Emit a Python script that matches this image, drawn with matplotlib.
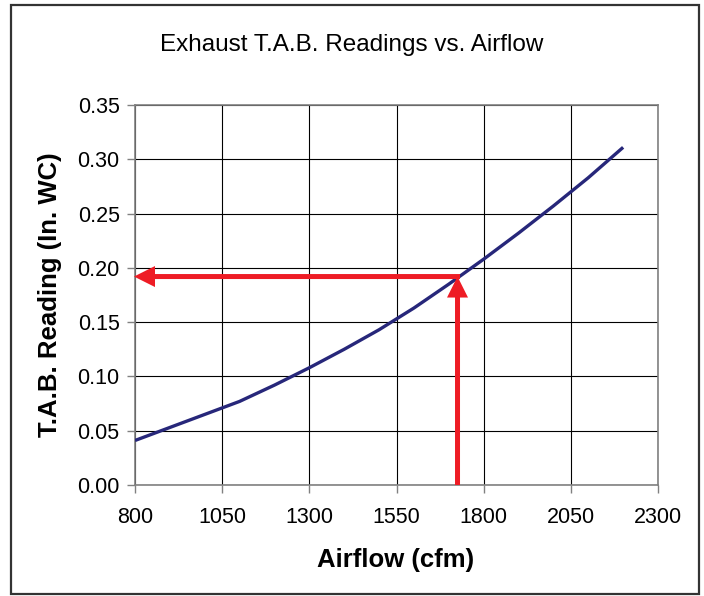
import matplotlib
matplotlib.use('Agg')
import matplotlib.pyplot as plt
import matplotlib.patches as mpatches

# curve
airflow = [800, 900, 1000, 1100, 1200, 1300, 1400, 1500, 1600, 1700, 1800, 1900, 2000, 2100, 2200]
reading = [0.041, 0.053, 0.065, 0.077, 0.092, 0.108, 0.125, 0.143, 0.163, 0.185, 0.208, 0.232, 0.257, 0.283, 0.311]

# lookup arrows
lookup_airflow = 1725
lookup_reading = 0.192

x_ticks = [800, 1050, 1300, 1550, 1800, 2050, 2300]
y_ticks = [0.00, 0.05, 0.10, 0.15, 0.20, 0.25, 0.30, 0.35]

plt.rcParams['font.family'] = ['Liberation Sans', 'DejaVu Sans']

W, H = 704, 596
fig = plt.figure(figsize=(W / 100, H / 100), dpi=100)
ax = fig.add_axes([135 / W, 1 - 485 / H, 523 / W, 380 / H])

curve_color = '#27277a'
arrow_color = '#ee1c25'
axis_gray = '#808080'

x_min, x_max = 800, 2300
y_min, y_max = 0, 0.35
ax.set_xlim(x_min, x_max)
ax.set_ylim(y_min, y_max)

ax.plot(airflow, reading, color=curve_color, linewidth=2.4, solid_capstyle='butt', zorder=3)

# arrow sizes in pixels, converted to data units of each axis
px_x = (x_max - x_min) / 523
px_y = (y_max - y_min) / 380
shaft, head_w, head_l = 5, 21, 21

ax.add_patch(mpatches.FancyArrow(lookup_airflow, 0, 0, lookup_reading,
                                 width=shaft * px_x, head_width=head_w * px_x,
                                 head_length=head_l * px_y, length_includes_head=True,
                                 color=arrow_color, linewidth=0, zorder=4, clip_on=False))
ax.add_patch(mpatches.FancyArrow(lookup_airflow + shaft / 2 * px_x, lookup_reading,
                                 x_min - 1 * px_x - lookup_airflow - shaft / 2 * px_x, 0,
                                 width=shaft * px_y, head_width=head_w * px_y,
                                 head_length=head_l * px_x, length_includes_head=True,
                                 color=arrow_color, linewidth=0, zorder=4, clip_on=False))

ax.set_xticks(x_ticks)
ax.set_yticks(y_ticks)
ax.set_yticklabels([f'{v:.2f}' for v in y_ticks])
ax.grid(True, color='black', linewidth=0.8)
ax.set_axisbelow(True)

for s in ax.spines.values():
    s.set_color(axis_gray)
    s.set_linewidth(1.2)
ax.tick_params(direction='out', length=6, width=1, color=axis_gray,
               labelsize=15.5, pad=5)
ax.tick_params(axis='x', pad=10)

ax.set_xlabel('Airflow (cfm)', fontsize=18.5, fontweight='bold')
ax.set_ylabel('T.A.B. Reading (In. WC)', fontsize=18.5, fontweight='bold')
ax.xaxis.label.set_va('center')
ax.yaxis.label.set_va('center')
ax.xaxis.set_label_coords((396 - 135) / 523, (485 - 560) / 380)
ax.yaxis.set_label_coords((50 - 135) / 523, 0.5)

fig.text(0.5, 1 - 45 / H, 'Exhaust T.A.B. Readings vs. Airflow', fontsize=17.5,
         ha='center', va='center')

# outer chart border
border = mpatches.Rectangle((11 / W, 1 - 594 / H), 688 / W, 589 / H,
                            transform=fig.transFigure, fill=False,
                            edgecolor='#333333', linewidth=1.6)
fig.patches.append(border)

fig.savefig('out.png', dpi=100)
